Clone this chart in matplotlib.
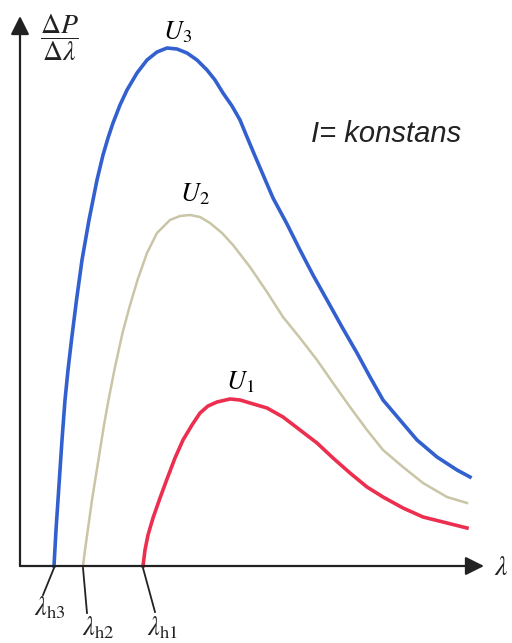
import numpy as np
from matplotlib import pyplot as plt

plt.rcParams['mathtext.fontset'] = 'stix'

# curves (x = wavelength, y = dP/dlambda, arbitrary units)
u3_x = [34, 36, 38, 40, 42, 45, 48, 51.5, 56.5, 62, 69, 77, 83, 88, 93, 100, 107,
        117, 127, 137, 147, 157, 167, 177, 187, 195, 203, 212, 220, 227, 235,
        244, 253, 267, 280, 293, 307, 322, 337, 350, 363, 380, 397, 417, 437, 450]
u3_y = [0, 36, 66, 96, 126, 166, 196, 226, 266, 306, 346, 386, 411, 428, 443,
        461, 476, 493, 506, 514, 518, 517, 513, 506, 496, 486, 473, 460, 446,
        429, 410, 389, 368, 342, 316, 291, 266, 239, 213, 189, 166, 146, 126,
        109, 96, 89]

u2_x = [63, 65, 68.5, 72, 76, 80, 84, 88.5, 95, 102.5, 109.5, 117.5, 127, 137,
        150, 160, 170, 180, 190, 202, 213, 230, 247, 263, 280, 297, 313, 330,
        347, 363, 383, 403, 427, 447]
u2_y = [0, 16, 41, 66, 91, 116, 141, 166, 199, 233, 259, 286, 313, 333, 346,
        350, 351, 349, 343, 333, 321, 299, 274, 249, 228, 206, 183, 159, 136,
        116, 99, 83, 69, 63]

u1_x = [123, 125, 128, 133, 140, 147, 155, 163, 172, 180, 188, 197, 210, 220,
        230, 247, 263, 280, 297, 313, 330, 347, 363, 383, 403, 427, 447]
u1_y = [0, 16, 31, 48, 68, 87, 108, 126, 141, 153, 160, 164, 167, 166, 163,
        158, 149, 136, 123, 108, 93, 79, 69, 58, 49, 43, 38]

curve_labels = [r'$U_3$', r'$U_2$', r'$U_1$']
cutoff_labels = [r'$\lambda_{\rm h3}$', r'$\lambda_{\rm h2}$', r'$\lambda_{\rm h1}$']

fig = plt.figure(figsize=(5.12, 6.43), dpi=100)
ax = fig.add_axes([0, 0, 1, 1])
ax.set_xlim(-20, 492)
ax.set_ylim(-77, 566)
ax.axis('off')

ax.plot(u3_x, u3_y, color='#3360cf', lw=2.6, solid_joinstyle='round')
ax.plot(u2_x, u2_y, color='#c9c5a6', lw=1.8, solid_joinstyle='round')
ax.plot(u1_x, u1_y, color='#ec2f4e', lw=2.6, solid_joinstyle='round')

# axes with arrows
arr = dict(arrowstyle='-|>', mutation_scale=28, lw=1.6, color='#222222',
           shrinkA=0, shrinkB=0)
ax.annotate('', xy=(464, 0), xytext=(0, 0), arrowprops=arr)
ax.annotate('', xy=(0, 550), xytext=(0, 0), arrowprops=arr)

ax.text(39, 528, r'$\dfrac{\Delta P}{\Delta\lambda}$', fontsize=20,
        ha='center', va='center', color='#222222')
ax.text(474, -1, r'$\lambda$', fontsize=20, ha='left', va='center',
        color='#222222')

# curve labels
ax.text(158, 534, curve_labels[0], fontsize=19, ha='center', va='center')
ax.text(175, 372, curve_labels[1], fontsize=19, ha='center', va='center')
ax.text(220, 184, curve_labels[2], fontsize=19, ha='center', va='center')

ax.text(366, 432, 'I= konstans', fontsize=21, style='italic',
        family='Liberation Sans', ha='center', va='center', color='#222222')

# cutoff wavelength labels with leader lines
lead_x0 = [u3_x[0], u2_x[0], u1_x[0]]
lead_x1 = [23, 67, 135]
lead_y1 = [-29, -47, -46]
lab_x = [30, 78, 143]
lab_y = [-42, -62, -62]
for i in range(3):
    ax.plot([lead_x0[i], lead_x1[i]], [-2, lead_y1[i]], color='#222222', lw=1.3)
    ax.text(lab_x[i], lab_y[i], cutoff_labels[i], fontsize=19,
            ha='center', va='center', color='#222222')

fig.savefig('out.png', dpi=100)
